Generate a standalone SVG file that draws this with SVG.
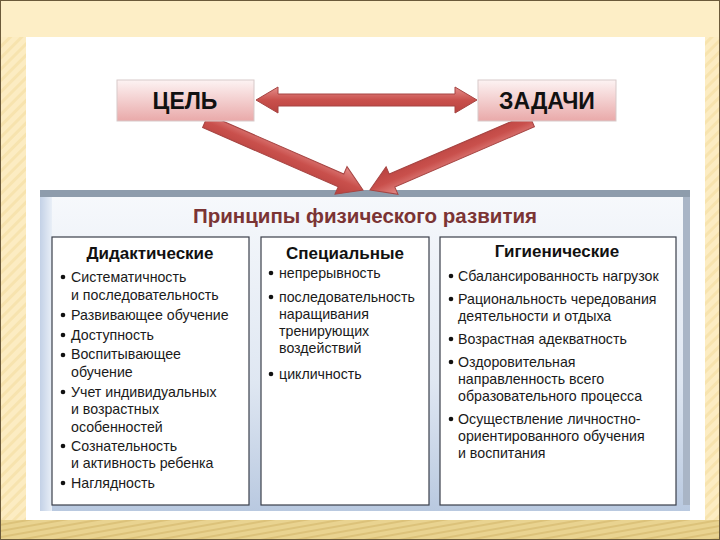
<svg xmlns="http://www.w3.org/2000/svg" width="720" height="540" viewBox="0 0 720 540">
<defs>
<pattern id="hatch" width="8" height="8" patternUnits="userSpaceOnUse" patternTransform="rotate(45)">
<rect width="8" height="8" fill="#fcecc2"/>
<rect width="3" height="8" fill="#f7e3ae"/>
</pattern>
<pattern id="hatch2" width="6" height="6" patternUnits="userSpaceOnUse" patternTransform="rotate(80)">
<rect width="6" height="6" fill="#e9d390"/>
<rect width="2" height="6" fill="#dcc27a"/>
</pattern>
<linearGradient id="boxg" x1="0" y1="0" x2="0" y2="1">
<stop offset="0" stop-color="#fdf3f3"/>
<stop offset="1" stop-color="#e9a9a9"/>
</linearGradient>
<linearGradient id="arrg" x1="0" y1="0" x2="0" y2="1">
<stop offset="0" stop-color="#e58e8b"/>
<stop offset="0.5" stop-color="#c9504c"/>
<stop offset="1" stop-color="#b8423f"/>
</linearGradient>
<linearGradient id="panelg" x1="0" y1="0" x2="0" y2="1">
<stop offset="0" stop-color="#f7f9fc"/>
<stop offset="0.6" stop-color="#dfe7f2"/>
<stop offset="1" stop-color="#b9c9e0"/>
</linearGradient>
<linearGradient id="sideg" x1="0" y1="0" x2="1" y2="0">
<stop offset="0" stop-color="#c3d1e6"/>
<stop offset="1" stop-color="#e9eff7"/>
</linearGradient>
</defs>
<style>
.lst{font-family:"Liberation Sans",Arial,sans-serif;font-size:14.2px;fill:#1a1a1a}
.hdr{font-family:"Liberation Sans",Arial,sans-serif;font-size:17px;font-weight:bold;fill:#111;text-anchor:middle}
.top{font-family:"Liberation Sans",Arial,sans-serif;font-size:23px;font-weight:bold;fill:#111;text-anchor:middle}
.col{fill:#ffffff;stroke:#3a3f4a;stroke-width:1.2}
.arr{fill:url(#arrg);stroke:#a64543;stroke-width:1}
.bul{fill:#111}
</style>
<!-- background frame -->
<rect x="0" y="0" width="720" height="540" fill="url(#hatch)"/>
<rect x="0" y="0" width="720" height="37" fill="#fdeec6"/>
<rect x="0" y="520" width="720" height="20" fill="url(#hatch2)"/>
<rect x="26" y="37" width="679" height="483" fill="#ffffff"/>
<rect x="0.5" y="0.5" width="719" height="539" fill="none" stroke="#6b5a3a" stroke-width="1"/>

<!-- main panel -->
<g id="principles">
<rect x="40" y="190" width="650" height="321" fill="url(#panelg)"/>
<rect x="40" y="196" width="12" height="315" fill="url(#sideg)"/>
<rect x="683" y="196" width="7" height="309" fill="#a9b5c6"/>
<rect x="40" y="190" width="650" height="7" fill="#8e9cac"/>
<text x="365" y="223" font-family="'Liberation Sans',Arial,sans-serif" font-size="20.5" font-weight="bold" fill="#7b3434" text-anchor="middle">Принципы физического развития</text>
</g>

<g id="col-didactic">
<rect class="col" x="52" y="237" width="197" height="268"/>
<text class="hdr" x="150" y="259">Дидактические</text>
<circle class="bul" cx="63" cy="277" r="2.3"/>
<text class="lst" x="71" y="282">Систематичность</text>
<text class="lst" x="71" y="300">и последовательность</text>
<circle class="bul" cx="63" cy="315" r="2.3"/>
<text class="lst" x="71" y="320">Развивающее обучение</text>
<circle class="bul" cx="63" cy="335" r="2.3"/>
<text class="lst" x="71" y="340">Доступность</text>
<circle class="bul" cx="63" cy="355" r="2.3"/>
<text class="lst" x="71" y="359">Воспитывающее</text>
<text class="lst" x="71" y="377">обучение</text>
<circle class="bul" cx="63" cy="392" r="2.3"/>
<text class="lst" x="71" y="397">Учет индивидуальных</text>
<text class="lst" x="71" y="414">и возрастных</text>
<text class="lst" x="71" y="432">особенностей</text>
<circle class="bul" cx="63" cy="446" r="2.3"/>
<text class="lst" x="71" y="451">Сознательность</text>
<text class="lst" x="71" y="468">и активность ребенка</text>
<circle class="bul" cx="63" cy="483" r="2.3"/>
<text class="lst" x="71" y="488">Наглядность</text>
</g>

<g id="col-special">
<rect class="col" x="261" y="237" width="168" height="268"/>
<text class="hdr" x="345" y="259">Специальные</text>
<circle class="bul" cx="271" cy="273" r="2.3"/>
<text class="lst" x="279" y="278">непрерывность</text>
<circle class="bul" cx="271" cy="297" r="2.3"/>
<text class="lst" x="279" y="302">последовательность</text>
<text class="lst" x="279" y="319">наращивания</text>
<text class="lst" x="279" y="336">тренирующих</text>
<text class="lst" x="279" y="353">воздействий</text>
<circle class="bul" cx="271" cy="374" r="2.3"/>
<text class="lst" x="279" y="379">цикличность</text>
</g>

<g id="col-hygienic">
<rect class="col" x="440" y="237" width="236" height="268"/>
<text class="hdr" x="557" y="257">Гигиенические</text>
<circle class="bul" cx="451" cy="276" r="2.3"/>
<text class="lst" x="458" y="281">Сбалансированность нагрузок</text>
<circle class="bul" cx="451" cy="299" r="2.3"/>
<text class="lst" x="458" y="304">Рациональность чередования</text>
<text class="lst" x="458" y="321">деятельности и отдыха</text>
<circle class="bul" cx="451" cy="339" r="2.3"/>
<text class="lst" x="458" y="344">Возрастная адекватность</text>
<circle class="bul" cx="451" cy="362" r="2.3"/>
<text class="lst" x="458" y="367">Оздоровительная</text>
<text class="lst" x="458" y="384">направленность всего</text>
<text class="lst" x="458" y="401">образовательного процесса</text>
<circle class="bul" cx="451" cy="419" r="2.3"/>
<text class="lst" x="458" y="424">Осуществление личностно-</text>
<text class="lst" x="458" y="441">ориентированного обучения</text>
<text class="lst" x="458" y="458">и воспитания</text>
</g>

<!-- connectors -->
<g id="connectors">
<polygon class="arr" points="256,100 278,87 278,94 455,94 455,87 477,100 455,113 455,106 278,106 278,113"/>
<g transform="translate(363,190) rotate(23.6)">
<polygon class="arr" points="0,0 -24,-15 -24,-7 -172,-7 -172,7 -24,7 -24,15"/>
</g>
<g transform="translate(370,190) rotate(156.7)">
<polygon class="arr" points="0,0 -24,-15 -24,-7 -176,-7 -176,7 -24,7 -24,15"/>
</g>
</g>

<g id="goal">
<rect x="117" y="80" width="137" height="41" fill="url(#boxg)" stroke="#d7c9c9" stroke-width="1"/>
<text class="top" x="185" y="109">ЦЕЛЬ</text>
</g>
<g id="tasks">
<rect x="478" y="80" width="138" height="41" fill="url(#boxg)" stroke="#d7c9c9" stroke-width="1"/>
<text class="top" x="547" y="109">ЗАДАЧИ</text>
</g>
</svg>
